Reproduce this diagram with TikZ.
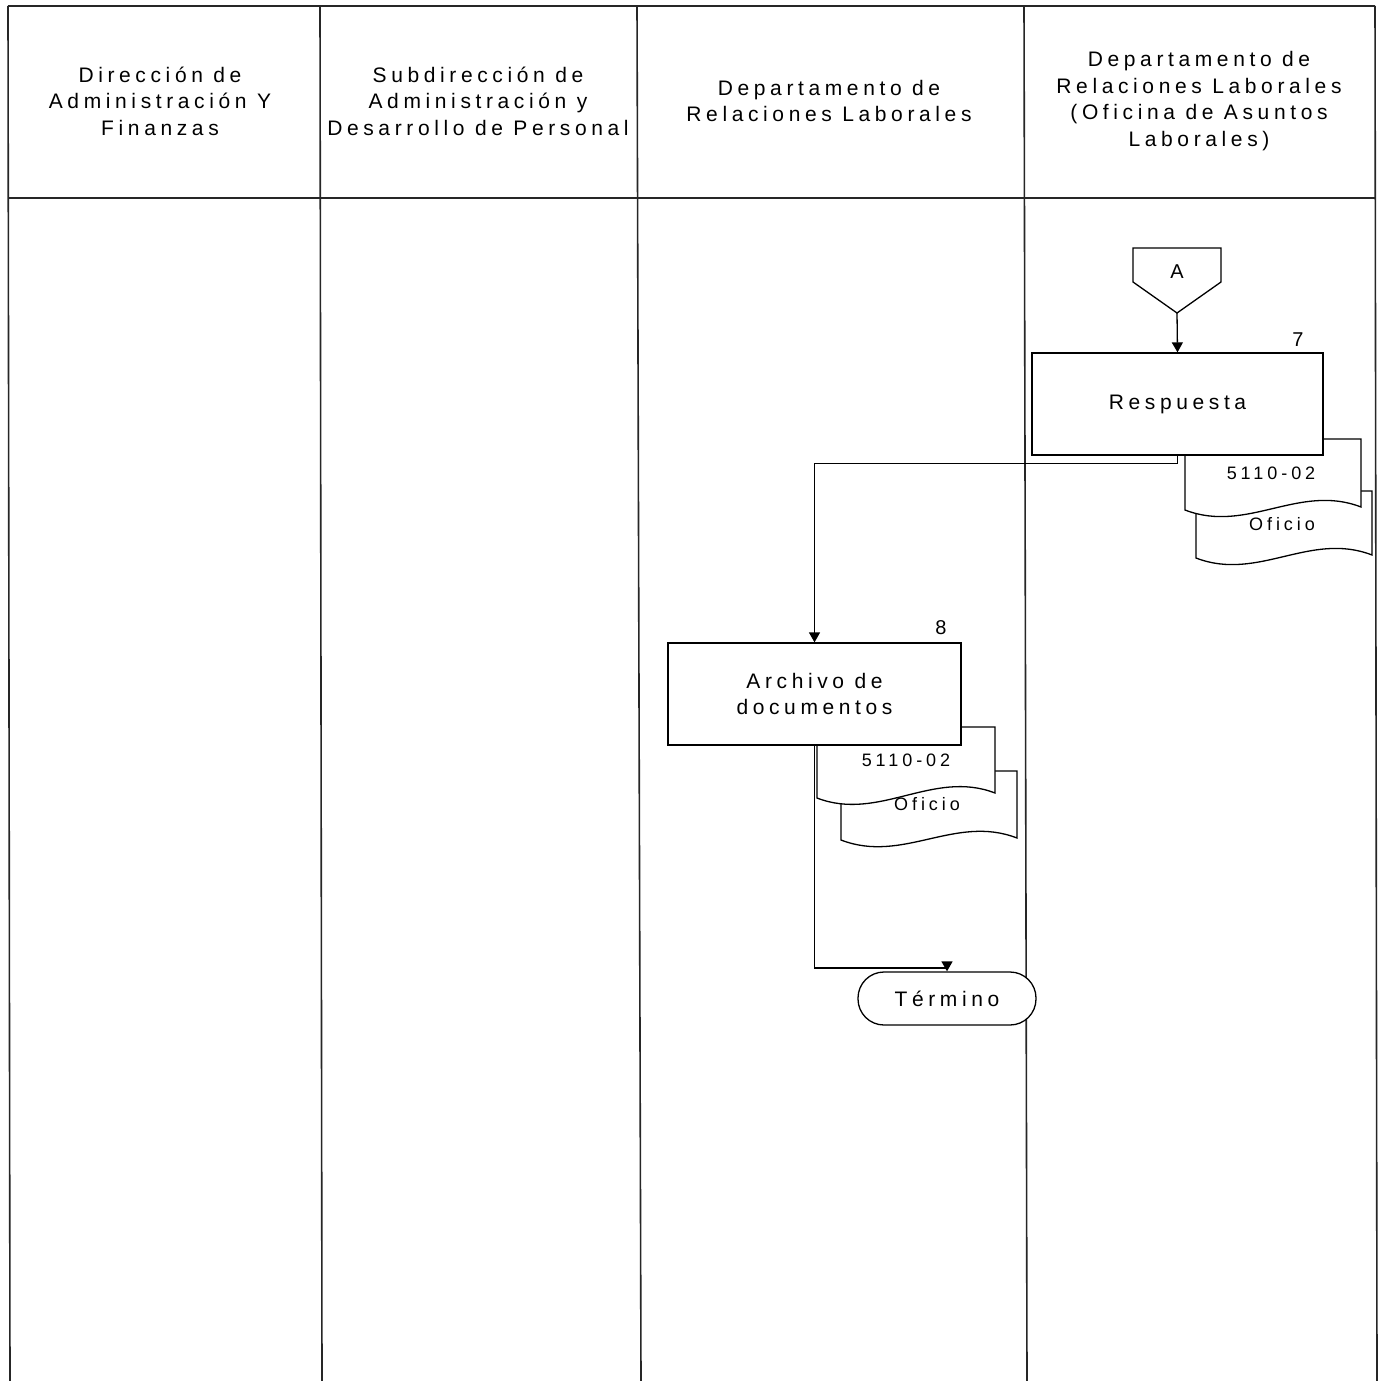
\documentclass[tikz,border=0pt]{standalone}
\usepackage{fontspec}
\setmainfont{Liberation Sans}[LetterSpace=22]
\usetikzlibrary{arrows.meta,calc}
\tikzset{
  lane/.style={line width=1.6pt,draw=black!85},
  flow/.style={line width=1.3pt,-{Triangle[width=11pt,length=10pt]}},
  procbox/.style={draw,line width=1.3pt,fill=white,minimum width=291pt,minimum height=102pt,inner sep=0pt,align=center,font=\fontsize{21}{26}\selectfont},
  hdr/.style={align=center,font=\fontsize{21}{26.5}\selectfont,inner sep=0pt},
  doctext/.style={font=\fontsize{18}{22}\selectfont,inner sep=0pt},
  numtext/.style={font=\fontsize{20}{22}\selectfont,inner sep=0pt},
  docshape/.style={draw,line width=1.3pt,fill=white},
  termbox/.style={draw,line width=1.3pt,fill=white,rounded corners=26pt,minimum width=178pt,minimum height=53pt,inner sep=0pt,font=\fontsize{21}{22}\selectfont}
}
\newcommand\mydoc[5]{% L, T, R, yL, yR
  \path[docshape] (#1,#4) -- (#1,#2) -- (#3,#2) -- (#3,#5)
    .. controls ($(#3,#5)+(-62,-24)$) and ($(#1,#4)+(62,24)$) .. (#1,#4) -- cycle;}
\begin{document}
\begin{tikzpicture}[x=1pt,y=-1pt]
\useasboundingbox[fill=white] (0,0) rectangle (1379,1381);
% lanes
\draw[lane] (8,6) -- (1375,6);
\draw[lane] (8,198) -- (1375,198);
\draw[lane] (8,6) -- (10,1381);
\draw[lane] (320,6) -- (322,1381);
\draw[lane] (637,6) -- (641,1381);
\draw[lane] (1024,6) -- (1027,1381);
\draw[lane] (1375,6) -- (1377,1381);
% headers
\node[hdr] (h1) at (160,101) {Dirección de\\Administración Y\\Finanzas};
\node[hdr] (h2) at (478,101) {Subdirección de\\Administración y\\Desarrollo de Personal};
\node[hdr] (h3) at (829,101) {Departamento de\\Relaciones Laborales};
\node[hdr] (h4) at (1199,101) {Departamento de\\Relaciones Laborales\\(Oficina de Asuntos\\Laborales)};
% off-page connector A
\draw[line width=1.3pt,fill=white] (1133,248) -- (1221,248) -- (1221,282) -- (1177,313) -- (1133,282) -- cycle;
\coordinate (Atip) at (1177,313);
\node[numtext] (A) at (1177,272) {A};
% documents step 7
\mydoc{1196}{491}{1372}{558}{555}
\node[doctext] (of1) at (1282,524) {Oficio};
\mydoc{1185}{439}{1361}{510}{507}
\node[doctext] (d1) at (1271,473) {5110-02};
% Respuesta
\node[procbox] (resp) at (1177.5,404) {Respuesta};
\node[numtext] (n7) at (1298,340) {7};
% documents step 8
\mydoc{841}{771}{1017}{840}{838}
\node[doctext] (of2) at (927,804) {Oficio};
\mydoc{817}{727}{995}{798}{793}
\node[doctext] (d2) at (906,760) {5110-02};
% Archivo
\node[procbox,minimum width=293pt] (arch) at (814.5,694) {Archivo de\\documentos};
\node[numtext] (n8) at (941,628) {8};
% Termino
\node[termbox] (term) at (947,998.5) {Término};
% connectors
\draw[flow] (Atip) -- (resp.north);
\draw[flow] (resp.south) -- ++(0,8) -| (arch.north);
\coordinate (bend) at (arch.south |- 0,968);
\draw[flow] (arch.south) -- (bend) -- (term.north |- bend) -- (term.north);
\end{tikzpicture}
\end{document}
